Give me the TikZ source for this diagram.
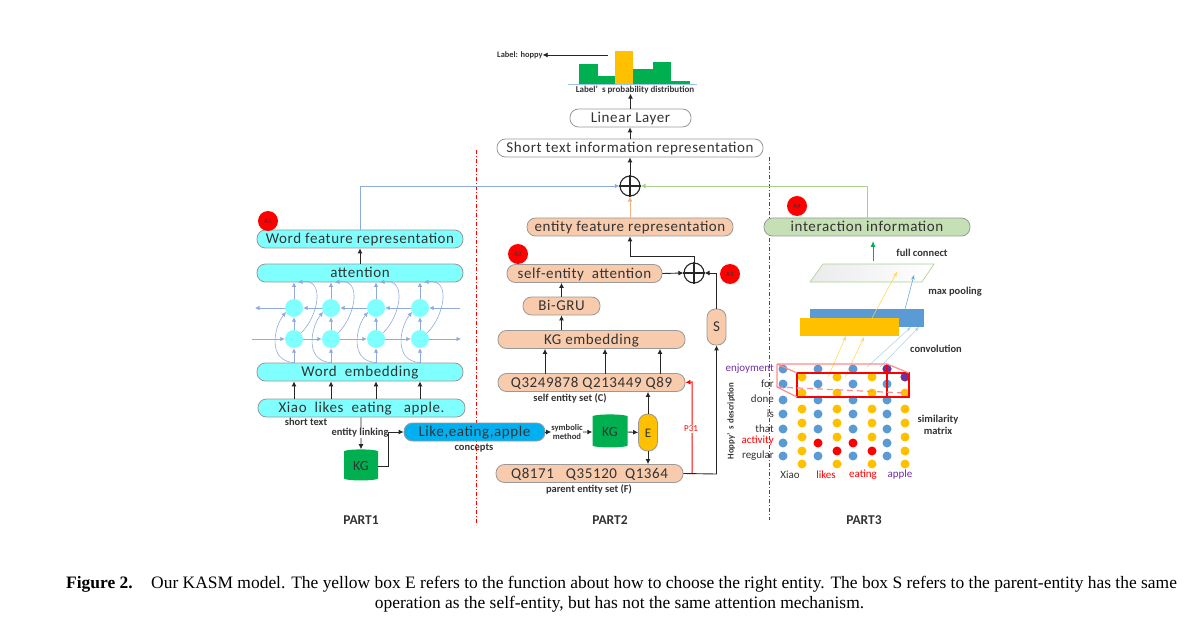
\documentclass[tikz,border=0pt]{standalone}
\usepackage{fontspec}
\setmainfont{Carlito}
\newfontfamily\capfont{Liberation Serif}
\newfontfamily\boxfont[LetterSpace=4]{Carlito}
\usetikzlibrary{arrows.meta,calc,shapes.geometric}
\definecolor{cyanbox}{HTML}{80FFFF}
\definecolor{peach}{HTML}{F8CBAD}
\definecolor{sage}{HTML}{C5E0B4}
\definecolor{ink}{HTML}{333333}
\definecolor{grn}{HTML}{00B050}
\definecolor{yel}{HTML}{FFC000}
\definecolor{blu}{HTML}{5B9BD5}
\definecolor{sky}{HTML}{00B0F0}
\definecolor{pur}{HTML}{7030A0}
\definecolor{lineblue}{HTML}{8FAADC}
\definecolor{linegreen}{HTML}{A9D18E}
\definecolor{lineorange}{HTML}{F4B183}
\definecolor{pure}{HTML}{FF0000}
\definecolor{softred}{HTML}{FF8C8C}
\tikzset{
  pill/.style={draw=black!40,line width=0.8pt,rounded corners=8.5pt,inner sep=0pt,text=ink,
    text height=12pt,text depth=3pt,font=\boxfont\fontsize{15}{17}\selectfont},
  cyanpill/.style={pill,fill=cyanbox},
  peachpill/.style={pill,fill=peach},
  whitepill/.style={pill,fill=white},
  arr/.style={-{Latex[length=5pt,width=5pt]},line width=0.9pt,draw=black!85},
  bluearr/.style={-{Latex[length=4.5pt,width=4.5pt]},line width=0.7pt,draw=lineblue},
  bluecurve/.style={-{Latex[length=4.5pt,width=4.5pt]},line width=0.6pt,draw=lineblue},
  thinarr/.style={-{Stealth[length=5pt,width=3.5pt,open]},line width=0.5pt},
  cell/.style={circle,fill=cyanbox,minimum width=18pt,inner sep=0pt,minimum height=18pt},
  tag/.style={circle,fill=pure,minimum size=20pt,inner sep=0pt,text=black!80,font=\fontsize{6.5}{7}\selectfont},
  lab/.style={font=\fontsize{10.5}{12}\selectfont\bfseries,text=ink,inner sep=0pt,align=center},
  partlab/.style={font=\fontsize{13.5}{15}\selectfont\bfseries,text=ink,inner sep=0pt},
  oplus/.style={circle,draw=black!85,line width=1.1pt,minimum size=20pt,inner sep=0pt},
  kgdb/.style={cylinder,shape border rotate=90,aspect=0.25,fill=grn,inner sep=0pt,text=ink,
    font=\fontsize{14}{16}\selectfont},
  dot/.style={circle,minimum size=9pt,inner sep=0pt},
  wordlab/.style={font=\fontsize{11}{13}\selectfont,inner sep=0pt},
  sep/.style={draw=pure,line width=0.7pt,dash pattern=on 4pt off 2pt on 1pt off 2pt},
  redbox/.style={draw=softred,line width=1.2pt},
  redline/.style={draw=pure,line width=1pt},
  frontedge/.style={draw=pure,line width=1.3pt},
  capt/.style={inner sep=0pt,font=\capfont\fontsize{17.45}{20}\selectfont},
}
\begin{document}
\begin{tikzpicture}[x=1pt,y=-1pt]
\useasboundingbox (0,0) rectangle (1193,620);
% separators
\coordinate (s1a) at (476,150); \coordinate (s1b) at (476,525);
\coordinate (s2a) at (769,157); \coordinate (s2b) at (769,520);
\draw[sep] (s1a) -- (s1b);
\draw[sep] (s2a) -- (s2b);

% TOP: histogram
\foreach \xa/\xb/\t/\c in {579/598/64/grn,598/615/76/grn,615/633/51/yel,633/653/69/grn,653/671/62/grn,671/690/81/grn}
  \fill[\c] (\xa,84) rectangle (\xb,\t);
\draw[blu!60,line width=0.8pt] (568,84) -- (697,84);
\node[lab,font=\fontsize{9}{10}\selectfont\bfseries] (problab) at (635,89.5) {Label’\ \ s probability distribution};
\node[lab,font=\fontsize{8.4}{10}\selectfont\bfseries,anchor=west] (hoppy) at (497,55) {Label: hoppy};
\coordinate (histleft) at (608,55);
\draw[arr,line width=0.6pt] (histleft) -- (hoppy.east);
\node[whitepill,minimum width=121pt,minimum height=18pt] (linear) at (630.5,118) {Linear Layer};
\node[whitepill,minimum width=266pt,minimum height=18pt] (short) at (630,148) {Short text information representation};
\node[oplus] (bigplus) at (630,186) {};
\draw[black!85,line width=1.1pt] (bigplus.north) -- (bigplus.south) (bigplus.west) -- (bigplus.east);
\draw[arr] (bigplus.north) -- (short.south);
\draw[arr] (short.north) -- (short.north |- linear.south);
\draw[arr] (linear.north) -- (linear.north |- problab.south);

% PART 1
\node[cyanpill,minimum width=206pt,minimum height=18pt] (wfr) at (360,239) {Word feature representation};
\node[cyanpill,minimum width=206pt,minimum height=18pt] (att) at (360,273) {attention};
\node[cyanpill,minimum width=206pt,minimum height=18pt] (wemb) at (360,372) {Word\ \ embedding};
\node[cyanpill,minimum width=207pt,minimum height=18pt] (xiao) at (361.5,408) {Xiao\ \ likes\ \ eating\ \ \ apple.};
\node[tag] (a1) at (268,221) {A1};
\draw[arr] (att.north) -- (wfr.south);
\foreach \i/\x in {1/294,2/331,3/376,4/420}{
  \node[cell] (u\i) at (\x,308) {};
  \node[cell] (l\i) at (\x,339) {};
  \draw[arr] (xiao.north -| l\i) -- (wemb.south -| l\i);
  \draw[bluearr] (wemb.north -| l\i) -- (l\i.south);
  \draw[bluearr] (l\i.north) -- (u\i.south);
  \draw[bluearr] (u\i.north) -- (att.south -| u\i);
  \draw[bluecurve] (wemb.north -| l\i) .. controls ($(l\i)+(-27,22)$) and ($(l\i)+(-20,-12)$) .. ($(u\i)+(-8,4)$);
  \draw[bluecurve] ($(l\i)+(7,-6)$) .. controls ($(l\i)+(24,-22)$) and ($(u\i)+(32,-30)$) .. ($(att.south -| u\i)+(4,0)$);
}
\coordinate (lin) at (252,339); \coordinate (lout) at (461,339);
\coordinate (uin) at (460,308); \coordinate (uout) at (255,308);
\draw[bluearr] (lin) -- (l1.west);
\draw[bluearr] (l1.east) -- (l2.west);
\draw[bluearr] (l2.east) -- (l3.west);
\draw[bluearr] (l3.east) -- (l4.west);
\draw[bluearr] (l4.east) -- (lout);
\draw[bluearr] (uin) -- (u4.east);
\draw[bluearr] (u4.west) -- (u3.east);
\draw[bluearr] (u3.west) -- (u2.east);
\draw[bluearr] (u2.west) -- (u1.east);
\draw[bluearr] (u1.west) -- (uout);
\node[lab] (stext) at (306,422) {short text};
\node[kgdb,minimum width=34pt,minimum height=31pt] (kg1) at (361,466) {KG};
\node[pill,fill=sky,minimum width=141pt,minimum height=18pt] (like) at (474.5,432) {Like,eating,apple};
\node[lab] (concepts) at (474,448) {concepts};
\draw[arr] (xiao.south -| kg1) -- (kg1.north);
\node[lab,fill=white,inner xsep=1pt] (link) at (360,433) {entity linking};
\coordinate (kgbend) at (388,466);
\draw[arr] (kg1.south |- kgbend) ++(17,0) -- (kgbend) |- (like.west);
\node[partlab] (p1) at (361,520) {PART1};

% PART 2
\node[peachpill,minimum width=206pt,minimum height=18pt] (efr) at (630,227) {entity feature representation};
\node[peachpill,minimum width=155pt,minimum height=18pt] (sea) at (584.5,273.5) {self-entity\ \ attention};
\node[peachpill,minimum width=77pt,minimum height=18pt] (gru) at (561.5,306) {Bi-GRU};
\node[peachpill,minimum width=187pt,minimum height=18pt] (kgemb) at (591.5,339.5) {KG embedding};
\node[peachpill,minimum width=187pt,minimum height=18pt] (selfset) at (591.5,382.5) {Q3249878 Q213449 Q89};
\node[peachpill,minimum width=187pt,minimum height=18pt] (parset) at (589.5,473.5) {Q8171\ \ \ Q35120\ \ Q1364};
\node[peachpill,minimum width=19pt,minimum height=36pt] (sbox) at (716.5,327) {S};
\node[oplus] (smallplus) at (694,273) {};
\draw[black!85,line width=1.1pt] (smallplus.north) -- (smallplus.south) (smallplus.west) -- (smallplus.east);
\node[tag] (a2) at (518,254) {A2};
\node[tag] (a3) at (730,274) {A3};
\draw[arr] (sea.east) -- (smallplus.west);
\draw[arr] (sbox.north) |- (smallplus.east);
\coordinate (efrbend) at (630,256);
\draw[arr] (smallplus.north) |- (efrbend) -- (efr.south);
\draw[arr] (gru.north) -- (sea.south -| gru);
\draw[arr] (kgemb.north -| gru) -- (gru.south);
\coordinate (qa) at (545,374); \coordinate (qb) at (605,374); \coordinate (qc) at (660,374);
\draw[arr] (qa) -- (kgemb.south -| qa);
\draw[arr] (qb) -- (kgemb.south -| qb);
\draw[arr] (qc) -- (kgemb.south -| qc);
\node[lab] (slab) at (570,398) {self entity set (C)};
\node[lab] (plab) at (589,489) {parent entity set (F)};
\node[kgdb,minimum width=35pt,minimum height=33pt] (kg2) at (610,432) {KG};
\node[pill,fill=yel,minimum width=19pt,minimum height=37pt,rounded corners=9pt,font=\fontsize{13}{15}\selectfont] (ebox) at (648,432.5) {E};
\node[lab,align=center,font=\fontsize{8.6}{10}\selectfont\bfseries] (sym) at (567,432) {symbolic\\[-1pt]method};
\draw[arr,line width=0.7pt] (like.east) -- (sym.west);
\draw[arr] (sym.east) -- (kg2.west);
\draw[arr] (kg2.east) -- (ebox.west);
\draw[arr] (ebox.north) -- (selfset.south -| ebox);
\draw[arr] (ebox.south) -- (parset.north -| ebox);
\coordinate (redbend) at (692,474);
\draw[-{Latex[length=5pt,width=5pt]},redline] (redbend) -- (692,382) -- (selfset.east);
\node[font=\fontsize{9}{11}\selectfont,text=pure,fill=white,inner sep=1pt] (p31) at (691,429) {P31};
\coordinate (sbend) at (716.5,474);
\draw[arr] (parset.east) -- (sbend) -- (sbox.south);
\node[lab,rotate=90,font=\fontsize{8.8}{10}\selectfont\bfseries] (hd) at (731,421) {Hoppy’\ \ s description};
\node[partlab] (p2) at (610,520) {PART2};
\draw[-{Latex[length=5pt,width=5pt]},line width=0.8pt,draw=lineorange] (efr.north) -- (bigplus.south);
\draw[bluearr,line width=0.9pt] (wfr.north) |- (bigplus.west);

% PART 3
\node[pill,fill=sage,minimum width=206pt,minimum height=18pt] (inter) at (867,227) {interaction information};
\node[tag] (a4) at (797,206) {A4};
\draw[-{Latex[length=5pt,width=5pt]},line width=0.9pt,draw=linegreen] (inter.north) |- (bigplus.east);
\coordinate (fca) at (873,261); \coordinate (fcb) at (873,241);
\draw[-{Latex[length=6pt,width=5pt]},line width=1pt,draw=grn] (fca) -- (fcb);
\node[lab] (fc) at (922,253) {full connect};
\shade[left color=black!8,right color=white,draw=linegreen,line width=0.6pt] (810,282) -- (823,264) -- (934,264) -- (922,282) -- cycle;
\node[lab] (mp) at (955,292) {max pooling};
\fill[blu] (810,309) rectangle (924,327);
\fill[yel] (800,318) rectangle (899,336);
\node[lab] (conv) at (936,349) {convolution};
\draw[thinarr,draw=blu] (904,313) -- (914,275);
\draw[thinarr,draw=yel!70] (872,318) -- (897,272);
\draw[thinarr,draw=yel!70] (828,377) -- (846,336);
\draw[thinarr,draw=yel!70] (845,377) -- (864,337);
\draw[thinarr,draw=blu!50] (867,367) -- (911,327);
\draw[thinarr,draw=blu!50] (880,367) -- (919,327);
% matrix dots
\foreach \x/\hot in {783/0,818/1,853/1,887/0}
  \foreach \y/\k in {369/0,384/1,400/2,414/3,429/4,443/5,456/6}{
    \ifnum\hot=1 \ifnum\k=5 \node[dot,fill=pure] at (\x,\y) {}; \else \node[dot,fill=blu] at (\x,\y) {}; \fi
    \else \node[dot,fill=blu] at (\x,\y) {}; \fi
  }
\foreach \x/\hot in {802/0,837/1,872/1,905/0}
  \foreach \y/\k in {377/0,393/1,409/2,423/3,437/4,451/5,464/6}{
    \ifnum\hot=1 \ifnum\k=5 \node[dot,fill=pure] at (\x,\y) {}; \else \node[dot,fill=yel] at (\x,\y) {}; \fi
    \else \node[dot,fill=yel] at (\x,\y) {}; \fi
  }
\node[dot,fill=pur] at (887,369) {};
\node[dot,fill=pur] at (905,377) {};
% red cuboid
\draw[frontedge] (797,373) -- (909,373) -- (909,397) -- (797,397) -- cycle;
\draw[frontedge] (887,364) -- (887,397);
\draw[redbox] (777,364) -- (887,364) -- (909,373) (797,373) -- (777,364);
\draw[redbox] (777,364) -- (777,387) -- (797,397);
\draw[redbox,dash pattern=on 6pt off 4pt] (777,387) -- (905,393);
\foreach \y/\w/\c in {369/enjoyment/pur,384/for/ink,399/done/ink,414/is/ink,429/that/ink,441/activity/pure,456/regular/ink}
  \node[wordlab,anchor=east,text=\c] at (774,\y) {\w};
\foreach \x/\w/\c in {790/Xiao/ink,826/likes/pure,863/eating/pure,900/apple/pur}
  \node[wordlab,text=\c] at (\x,475) {\w};
\node[lab] (sim) at (938,425) {similarity\\matrix};
\node[partlab] (p3) at (864,520) {PART3};

% caption
\node[capt,anchor=west,font=\capfont\fontsize{17.45}{20}\selectfont\bfseries] (figno) at (66,584) {Figure 2.};
\node[capt,anchor=west] (cap1) at (151,584) {Our KASM model. The yellow box E refers to the function about how to choose the right entity. The box S refers to the parent-entity has the same};
\node[capt] (cap2) at (619.5,604) {operation as the self-entity, but has not the same attention mechanism.};
\end{tikzpicture}
\end{document}
